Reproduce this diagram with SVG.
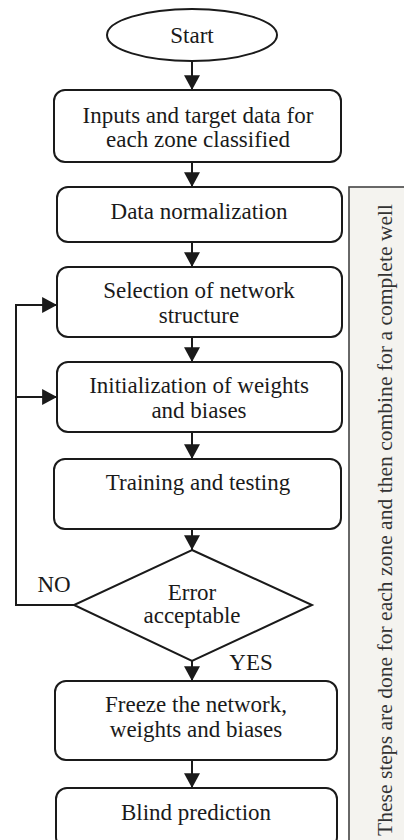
<svg xmlns="http://www.w3.org/2000/svg" width="404" height="840" viewBox="0 0 404 840">
<style>
.box{fill:#fff;stroke:#1a1a1a;stroke-width:2}
.t{font-family:"Liberation Serif","Times New Roman",serif;font-size:23px;fill:#1a1a1a;text-anchor:middle}
.c{fill:none;stroke:#1a1a1a;stroke-width:2}
.side{font-family:"Liberation Serif","Times New Roman",serif;font-size:21px;fill:#333;text-anchor:middle}
</style>
<defs>
<marker id="ah" markerUnits="userSpaceOnUse" markerWidth="16" markerHeight="16" viewBox="0 0 14 14" refX="13" refY="7" orient="auto">
<path d="M0,0 L13,7 L0,14 Z" fill="#1a1a1a"/>
</marker>
</defs>
<rect width="404" height="840" fill="#fff"/>
<g id="panel">
<rect x="349" y="187" width="62" height="670" fill="#f4f3ef" stroke="#444" stroke-width="1.6"/>
<text class="side" transform="translate(392,520) rotate(-90)" textLength="632" lengthAdjust="spacingAndGlyphs">These steps are done for each zone and then combine for a complete well</text>
</g>
<g id="connectors">
<line class="c" x1="192" y1="62" x2="192" y2="90" marker-end="url(#ah)"/>
<line class="c" x1="192" y1="162" x2="192" y2="187" marker-end="url(#ah)"/>
<line class="c" x1="192" y1="242" x2="192" y2="267" marker-end="url(#ah)"/>
<line class="c" x1="192" y1="337" x2="192" y2="362" marker-end="url(#ah)"/>
<line class="c" x1="192" y1="432" x2="192" y2="459" marker-end="url(#ah)"/>
<line class="c" x1="192" y1="529" x2="192" y2="550" marker-end="url(#ah)"/>
<line class="c" x1="192" y1="661" x2="192" y2="681" marker-end="url(#ah)"/>
<line class="c" x1="192" y1="760" x2="192" y2="788" marker-end="url(#ah)"/>
<polyline class="c" points="74,605 16,605 16,305 57,305" marker-end="url(#ah)"/>
<line class="c" x1="16" y1="397" x2="57" y2="397" marker-end="url(#ah)"/>
<text class="t" x="54" y="592">NO</text>
<text class="t" x="251" y="670">YES</text>
</g>
<g id="start">
<ellipse class="box" cx="192" cy="35" rx="85" ry="26"/>
<text class="t" x="192" y="43">Start</text>
</g>
<g id="inputs">
<rect class="box" x="54" y="90" width="287" height="72" rx="11"/>
<text class="t" x="198" y="123">Inputs and target data for</text>
<text class="t" x="198" y="147">each zone classified</text>
</g>
<g id="normalization">
<rect class="box" x="57" y="187" width="285" height="55" rx="11"/>
<text class="t" x="199" y="219">Data normalization</text>
</g>
<g id="selection">
<rect class="box" x="57" y="267" width="285" height="70" rx="11"/>
<text class="t" x="199" y="298">Selection of network</text>
<text class="t" x="199" y="323">structure</text>
</g>
<g id="initialization">
<rect class="box" x="57" y="362" width="285" height="70" rx="11"/>
<text class="t" x="199" y="393">Initialization of weights</text>
<text class="t" x="199" y="418">and biases</text>
</g>
<g id="training">
<rect class="box" x="54" y="459" width="287" height="70" rx="11"/>
<text class="t" x="198" y="490">Training and testing</text>
</g>
<g id="decision">
<polygon class="box" points="192,550 312,605 192,661 74,605"/>
<text class="t" x="192" y="600">Error</text>
<text class="t" x="192" y="623">acceptable</text>
</g>
<g id="freeze">
<rect class="box" x="55" y="681" width="282" height="79" rx="11"/>
<text class="t" x="196" y="712">Freeze the network,</text>
<text class="t" x="196" y="737">weights and biases</text>
</g>
<g id="blind">
<rect class="box" x="56" y="788" width="281" height="60" rx="11"/>
<text class="t" x="196" y="820">Blind prediction</text>
</g>
</svg>
